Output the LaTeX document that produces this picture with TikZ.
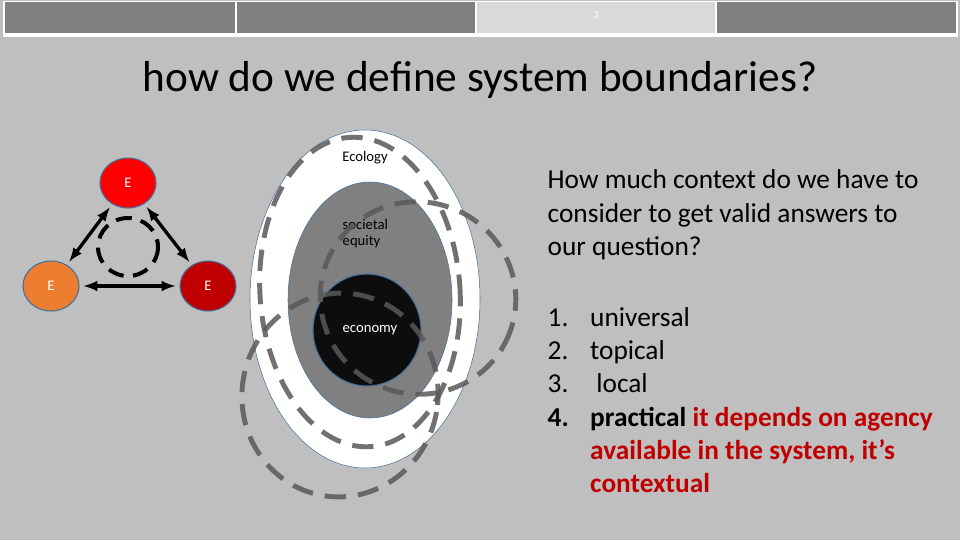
\documentclass[tikz,border=0pt]{standalone}
\usepackage{fontspec}
\setmainfont{Carlito}
\definecolor{bg}{HTML}{BFBFBF}
\definecolor{cellgray}{HTML}{808080}
\definecolor{celllight}{HTML}{D9D9D9}
\definecolor{dashgray}{HTML}{595959}
\definecolor{darkred}{HTML}{C00000}
\definecolor{eorange}{HTML}{ED7D31}
\definecolor{outl}{HTML}{41719C}
\begin{document}
\begin{tikzpicture}[x=0.75pt,y=0.75pt,yscale=-1,xscale=1,
  cell/.style={fill=cellgray,draw=none},
  enode/.style={ellipse,draw=outl,line width=0.8pt,minimum width=56pt*0.75,minimum height=50pt*0.75,inner sep=0pt,font=\fontsize{11}{13}\selectfont,text=white},
  dasharc/.style={draw=dashgray,line width=3.7pt,dash pattern=on 16pt off 9pt},
  linkarrow/.style={<->,>=latex,line width=2.5pt,shorten <=3pt,shorten >=3pt}]
\usetikzlibrary{shapes.geometric}
\fill[bg] (0,0) rectangle (960,540);
\useasboundingbox (0,0) rectangle (960,540);

%top bar
\fill[white] (3,1) rectangle (958,37);
\fill[cell] (5,2) rectangle (235,33);
\fill[cell] (237,2) rectangle (475,33);
\fill[celllight] (477,2) rectangle (715,33);
\fill[cell] (717,2) rectangle (956,33);
\node[text=white,font=\footnotesize] (page) at (596,15) {3};

%title
\node[font=\fontsize{32.5}{38}\selectfont] (title) at (480,80) {how do we define system boundaries?};

%triangle of E
\node[enode,fill=red] (etop) at (128,183) {E};
\node[enode,fill=eorange] (eleft) at (51,286) {E};
\node[enode,fill=darkred] (eright) at (208,286) {E};
\draw[linkarrow] (etop) -- (eleft);
\draw[linkarrow] (etop) -- (eright);
\draw[linkarrow] (eleft) -- (eright);
\draw[black,line width=3pt,dash pattern=on 12pt off 7pt] (128,247) ellipse (30 and 29);

%nested spheres
\fill[white,draw=outl] (365,299) ellipse (115 and 169);
\fill[cellgray,draw=outl] (370,300) ellipse (82 and 118);
\fill[black!95,draw=outl,line width=0.8pt] (367,330) ellipse (54 and 56);
\node[font=\fontsize{11}{13}\selectfont] (ecology) at (365,158) {Ecology};
\node[font=\fontsize{11}{13}\selectfont,align=left,anchor=west] (equity) at (338,234) {societal\\[-1pt]equity};
\node[font=\fontsize{11}{13}\selectfont,text=white] (economy) at (370,330) {economy};

%dashed boundaries
\draw[dasharc,draw opacity=0.85] (360,292) [rotate around={-4:(360,292)}] ellipse (100 and 155);
\draw[dasharc,draw opacity=0.85] (418,298) [rotate around={20:(418,298)}] ellipse (98 and 96);
\draw[dasharc,draw opacity=0.85] (340,395) [rotate around={10:(340,395)}] ellipse (98 and 102);

%question and answers
\node[anchor=north west,align=left,font=\fontsize{20.5}{25}\selectfont] (question) at (543,165)
  {How much context do we have to\\consider to get valid answers to\\our question?};
\node[anchor=north west,font=\fontsize{20.5}{25}\selectfont] (answers) at (543,298) {%
  \begin{tabular}{@{}l@{\hspace{16pt}}l@{}}
  1. & universal\\
  2. & topical\\
  3. & \ local\\
  \textbf{4.} & \textbf{practical \textcolor{darkred}{it depends on agency}}\\
     & \textbf{\textcolor{darkred}{available in the system, it’s}}\\
     & \textbf{\textcolor{darkred}{contextual}}
  \end{tabular}};
\end{tikzpicture}
\end{document}
